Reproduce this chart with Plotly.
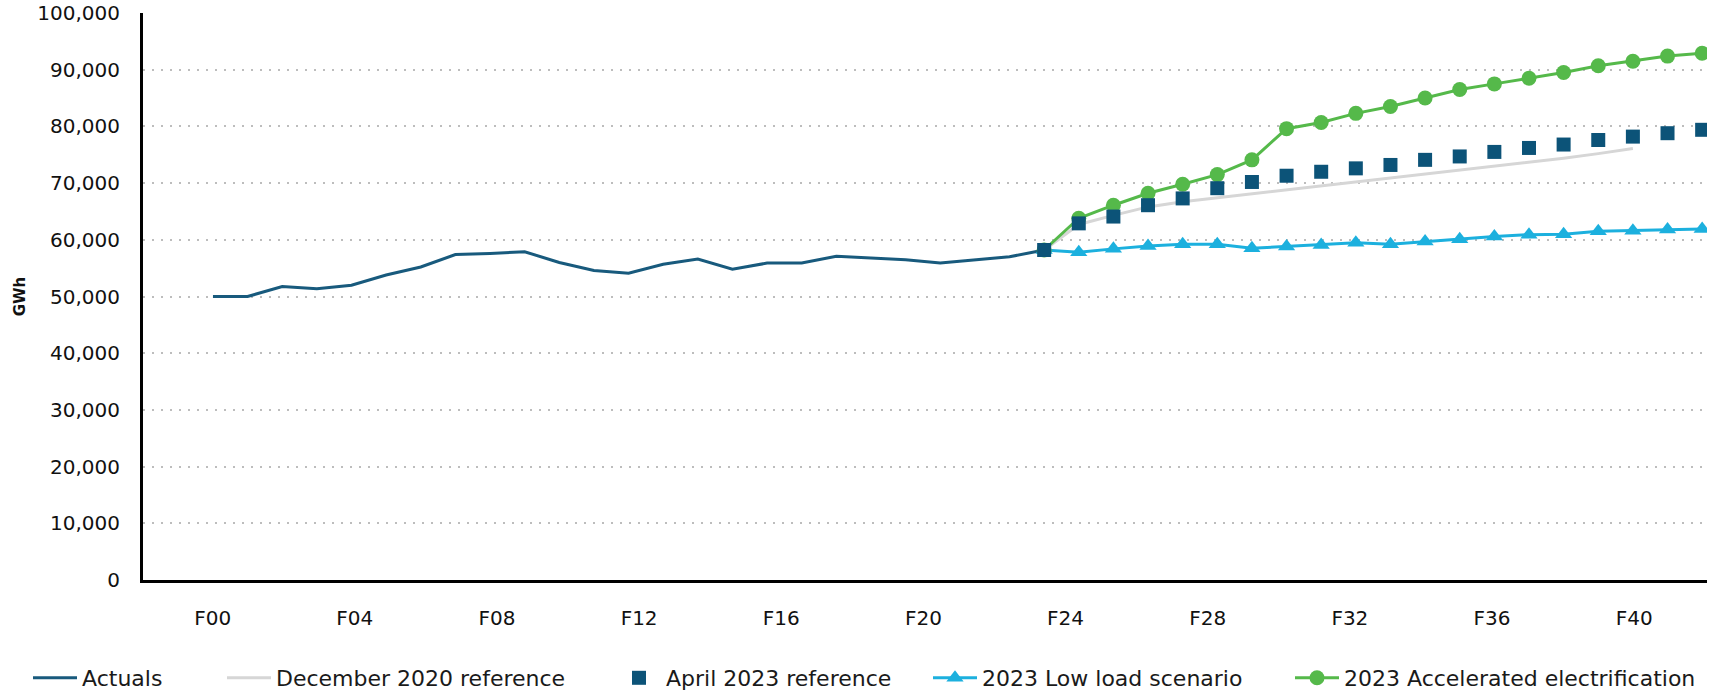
import plotly.graph_objects as go

# ---------------- data ----------------
tick_years = [0, 4, 8, 12, 16, 20, 24, 28, 32, 36, 40]
tick_labels = ["F00", "F04", "F08", "F12", "F16", "F20", "F24", "F28", "F32", "F36", "F40"]

actual_years = list(range(0, 25))
actual_gwh = [50000, 50000, 51760, 51350, 52000, 53800, 55200, 57400, 57600, 57900,
              56000, 54600, 54100, 55700, 56600, 54800, 55900, 55900, 57100, 56800,
              56500, 55900, 56400, 57000, 58200]

forecast_years = list(range(24, 44))
april2023_gwh = [58200, 62900, 64100, 66100, 67300, 69100, 70200, 71300, 72000, 72600,
                 73200, 74100, 74700, 75500, 76200, 76800, 77600, 78200, 78800, 79400]
low_load_gwh = [58200, 57800, 58400, 58900, 59200, 59200, 58500, 58800, 59100, 59500,
                59200, 59700, 60100, 60600, 60900, 61000, 61500, 61600, 61800, 61900]
accel_gwh = [58200, 63800, 66100, 68200, 69800, 71500, 74100, 79600, 80700, 82300,
             83500, 85000, 86500, 87500, 88500, 89500, 90700, 91500, 92400, 92900]

dec2020_years = list(range(24, 42))
dec2020_gwh = [58200, 62700, 64300, 65800, 66700, 67400, 68000, 68700, 69400, 70100,
               70800, 71500, 72200, 72900, 73600, 74400, 75200, 76100]

# ---------------- styling ----------------
FONT = "DejaVu Sans"
C_ACT = "#185a7d"
C_DEC = "#d6d6d6"
C_APR = "#0c5378"
C_LOW = "#1cb0de"
C_ACC = "#55b94a"

fig = go.Figure()
# invisible carrier so the labelled overlay axis is drawn (no marks)
fig.add_trace(go.Scatter(x=tick_years, y=[None] * len(tick_years), xaxis="x2", mode="none",
                         showlegend=False, hoverinfo="skip"))
fig.add_trace(go.Scatter(x=dec2020_years, y=dec2020_gwh, name="December 2020 reference",
                         mode="lines", line=dict(color=C_DEC, width=3), legend="legend2"))
fig.add_trace(go.Scatter(x=actual_years, y=actual_gwh, name="Actuals",
                         mode="lines", line=dict(color=C_ACT, width=3), legend="legend"))
fig.add_trace(go.Scatter(x=forecast_years, y=low_load_gwh, name="2023 Low load scenario",
                         mode="lines+markers", line=dict(color=C_LOW, width=3),
                         marker=dict(symbol="triangle-up", size=15, color=C_LOW),
                         legend="legend4"))
fig.add_trace(go.Scatter(x=forecast_years, y=accel_gwh, name="2023 Accelerated electrification",
                         mode="lines+markers", line=dict(color=C_ACC, width=3),
                         marker=dict(symbol="circle", size=15, color=C_ACC),
                         legend="legend5"))
fig.add_trace(go.Scatter(x=forecast_years, y=april2023_gwh, name="April 2023 reference",
                         mode="markers",
                         marker=dict(symbol="square", size=14, color=C_APR),
                         legend="legend3"))

W, H = 1727, 693


def leg(px_x):
    return dict(orientation="h", x=px_x / W, xref="container", xanchor="left",
                y=1 - 678 / H, yref="container", yanchor="middle",
                bgcolor="rgba(0,0,0,0)", itemwidth=44,
                font=dict(family=FONT, size=22, color="#1a1a1a"))


fig.update_layout(
    width=W, height=H,
    margin=dict(l=143, r=20, t=13, b=113),
    paper_bgcolor="white", plot_bgcolor="white",
    font=dict(family=FONT, size=20, color="#111111"),
    showlegend=True,
    legend=leg(28), legend2=leg(222), legend3=leg(612), legend4=leg(928), legend5=leg(1290),
    xaxis=dict(range=[-2.02, 43.14], showticklabels=False, showgrid=False, zeroline=False,
               showline=True, linecolor="black", linewidth=3, ticks="", automargin=False),
    xaxis2=dict(overlaying="x", anchor="y", side="bottom", range=[-1.96, 42.05],
                tickmode="array", tickvals=tick_years, ticktext=tick_labels,
                showgrid=False, zeroline=False, showline=False, ticks="", automargin=False,
                ticklabelstandoff=24, tickfont=dict(family=FONT, size=20, color="#111111")),
    yaxis=dict(range=[0, 100000], dtick=10000, tickformat=",", showgrid=True,
               gridcolor="#bdbdbd", gridwidth=2, griddash="2px,7px", automargin=False,
               ticklabeloverflow="allow",
               zeroline=False, showline=True, linecolor="black", linewidth=3, ticks="",
               ticklabelstandoff=16, tickfont=dict(family=FONT, size=20, color="#111111"),
               title=dict(text="<b>GWh</b>", font=dict(family=FONT, size=15, color="#111111"),
                          standoff=9)),
)

# remove the browser's default page margin so the figure sits at the window's corner
fig.write_html("out.html", config={"displayModeBar": False},
               post_script="document.body.style.margin='0';")
